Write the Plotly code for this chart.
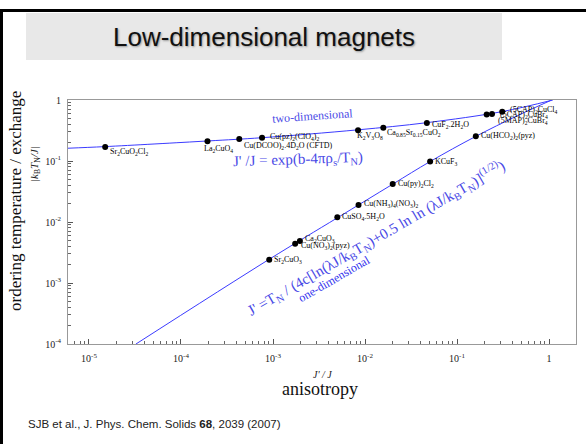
import math
import plotly.graph_objects as go

# ---------------- data ----------------
two_d_names = ["Sr<sub>2</sub>CuO<sub>2</sub>Cl<sub>2</sub>", "La<sub>2</sub>CuO<sub>4</sub>",
               "Cu(DCOO)<sub>2</sub>.4D<sub>2</sub>O (CFTD)", "Cu(pz)<sub>2</sub>(ClO<sub>4</sub>)<sub>2</sub>",
               "K<sub>2</sub>V<sub>3</sub>O<sub>8</sub>", "Ca<sub>0.85</sub>Sr<sub>0.15</sub>CuO<sub>2</sub>",
               "CuF<sub>2</sub>.2H<sub>2</sub>O", "(5MAP)<sub>2</sub>CuBr<sub>4</sub>",
               "(5CAP)<sub>2</sub>CuBr<sub>4</sub>", "(5CAP)<sub>2</sub>CuCl<sub>4</sub>"]
two_d_x = [1.5e-5, 1.94e-4, 4.3e-4, 7.6e-4, 8.4e-3, 0.0158, 0.047, 0.21, 0.24, 0.31]
two_d_y = [0.17, 0.21, 0.23, 0.24, 0.32, 0.35, 0.42, 0.58, 0.59, 0.64]

one_d_names = ["Sr<sub>2</sub>CuO<sub>3</sub>", "Cu(NO<sub>3</sub>)<sub>2</sub>(pyz)", "Ca<sub>2</sub>CuO<sub>3</sub>",
               "CuSO<sub>4</sub>.5H<sub>2</sub>O", "Cu(NH<sub>3</sub>)<sub>4</sub>(NO<sub>3</sub>)<sub>2</sub>",
               "Cu(py)<sub>2</sub>Cl<sub>2</sub>", "KCuF<sub>3</sub>", "Cu(HCO<sub>2</sub>)<sub>2</sub>(pyz)"]
one_d_x = [9.1e-4, 1.74e-3, 1.96e-3, 5.0e-3, 8.5e-3, 0.020, 0.051, 0.16]
one_d_y = [2.4e-3, 4.4e-3, 4.9e-3, 0.012, 0.019, 0.042, 0.098, 0.254]

# theory curves
curve2d_x = [5.9e-6, 1.48e-5, 1.95e-4, 7.6e-4, 8.3e-3, 0.047, 0.31, 1.1]
curve2d_y = [0.162, 0.172, 0.213, 0.241, 0.324, 0.425, 0.646, 1.0]
curve1d_x = [3.24e-5, 9.1e-4, 5.0e-3, 0.020, 0.051, 0.158, 0.45, 1.07]
curve1d_y = [1.0e-4, 2.45e-3, 0.0117, 0.0417, 0.098, 0.251, 0.55, 1.0]

x_tick_vals = [1e-5, 1e-4, 1e-3, 1e-2, 1e-1, 1]
x_tick_text = ["10<sup>-5</sup>", "10<sup>-4</sup>", "10<sup>-3</sup>", "10<sup>-2</sup>", "10<sup>-1</sup>", "1"]
y_tick_vals = [1e-4, 1e-3, 1e-2, 1e-1, 1]
y_tick_text = ["10<sup>-4</sup>", "10<sup>-3</sup>", "10<sup>-2</sup>", "10<sup>-1</sup>", "1"]

# ---------------- layout geometry ----------------
W, H = 586, 444
L, R, T, B = 68, 576, 100, 344  # plot area in pixels


def px(xp):
    return (xp - L) / (R - L)


def py(yp):
    return (B - yp) / (B - T)


SERIF = "Liberation Serif, Times New Roman, serif"
SANS = "Liberation Sans, Arial, sans-serif"
BLUE_LINE = "#3b3bff"
BLUE_TEXT = "#4a4ae6"

fig = go.Figure()
fig.add_trace(go.Scatter(x=curve2d_x, y=curve2d_y, mode="lines", line=dict(color=BLUE_LINE, width=1),
                         line_shape="spline", hoverinfo="skip"))
fig.add_trace(go.Scatter(x=curve1d_x, y=curve1d_y, mode="lines", line=dict(color=BLUE_LINE, width=1),
                         line_shape="spline", hoverinfo="skip"))
fig.add_trace(go.Scatter(x=two_d_x, y=two_d_y, mode="markers", marker=dict(color="black", size=6)))
fig.add_trace(go.Scatter(x=one_d_x, y=one_d_y, mode="markers", marker=dict(color="black", size=6)))

# label offsets (style)
two_d_off = [(3, -5), (-5, -8), (3, -7), (6, 1), (-3, -6), (2, -5), (3, -2), (9, -7), (6, -1), (6, 2)]
one_d_off = [(3, 0), (4, -2), (3, 2), (3, 0), (3, 1), (3, 0), (3, 0), (3, 0)]

annotations = []
for names, xs, ys, offs in [(two_d_names, two_d_x, two_d_y, two_d_off),
                            (one_d_names, one_d_x, one_d_y, one_d_off)]:
    for n, xv, yv, (dx, dy) in zip(names, xs, ys, offs):
        annotations.append(dict(x=math.log10(xv), y=math.log10(yv), xref="x", yref="y", text=n,
                                showarrow=False, xanchor="left", yanchor="middle", xshift=dx, yshift=dy,
                                font=dict(family=SERIF, size=8, color="black")))


def note(xp, yp, text, size, color, family=SERIF, angle=0, xanchor="center"):
    return dict(x=px(xp), y=py(yp), xref="paper", yref="paper", text=text, showarrow=False,
                xanchor=xanchor, yanchor="middle", textangle=angle,
                font=dict(family=family, size=size, color=color))


annotations += [
    note(312, 116, "two-dimensional", 12, BLUE_TEXT, angle=-4),
    note(298, 160, "J' /J = exp(b-4πρ<sub>s</sub>/T<sub>N</sub>)", 15, BLUE_TEXT, angle=-2),
    note(376, 238, "J' =T<sub>N</sub> / (4c[ln(λJ/k<sub>B</sub>T<sub>N</sub>)+0.5 ln ln (λJ/k<sub>B</sub>T<sub>N</sub>)]<sup>(1/2)</sup>)",
         15, BLUE_TEXT, angle=-30),
    note(334, 279, "one-dimensional", 12, "#3030ee", angle=-30),
    note(264, 37, "Low-dimensional magnets", 26, "#111", family=SANS),
    note(15, 201, "ordering temperature / exchange", 17, "#111", angle=-90),
    note(35, 164, "<i>|k</i><sub>B</sub><i>T</i><sub>N</sub><i>/J|</i>", 11, "#222", angle=-90),
    note(322, 374, "<i>J' / J</i>", 10, "#222"),
    note(320, 389, "anisotropy", 18, "#111"),
    note(26, 424, "SJB et al., J. Phys. Chem. Solids <b>68</b>, 2039 (2007)", 11.5, "#222",
         family=SANS, xanchor="left"),
]
annotations[-6]["font"]["shadow"] = "1px 1px 2px #999"

shapes = [
    dict(type="rect", xref="paper", yref="paper", x0=px(26), x1=px(502), y0=py(13), y1=py(60),
         fillcolor="#e8e8e8", line=dict(width=0), layer="below"),
    dict(type="line", xref="paper", yref="paper", x0=px(1.5), x1=px(1.5), y0=py(10), y1=py(450),
         line=dict(color="black", width=3)),
    dict(type="line", xref="paper", yref="paper", x0=px(0), x1=px(590), y0=py(10.5), y1=py(10.5),
         line=dict(color="black", width=3)),
]


def minor_vals(lo, hi):
    out = []
    for e in range(lo, hi + 1):
        for m in range(2, 10):
            out.append(m * 10 ** e)
    return out


fig.update_layout(
    width=W, height=H, margin=dict(l=L, r=W - R, t=T, b=H - B),
    paper_bgcolor="white", plot_bgcolor="white", showlegend=False,
    annotations=annotations, shapes=shapes,
    xaxis=dict(type="log", range=[-5.228, 0.293], showgrid=False, zeroline=False,
               showline=True, linecolor="#999", linewidth=1, mirror=True,
               tickmode="array", tickvals=x_tick_vals, ticktext=x_tick_text,
               ticks="inside", ticklen=5, tickcolor="#555", ticklabelstandoff=5,
               tickfont=dict(family=SERIF, size=10, color="#222"),
               minor=dict(tickmode="array", tickvals=minor_vals(-6, 0), ticks="inside", ticklen=3,
                          tickcolor="#666", showgrid=False)),
    yaxis=dict(type="log", range=[-4, 0], showgrid=False, zeroline=False,
               showline=True, linecolor="#999", linewidth=1, mirror=True,
               tickmode="array", tickvals=y_tick_vals, ticktext=y_tick_text,
               ticks="inside", ticklen=5, tickcolor="#555", ticklabelstandoff=4,
               tickfont=dict(family=SERIF, size=10, color="#222"),
               minor=dict(tickmode="array", tickvals=minor_vals(-5, 0), ticks="inside", ticklen=3,
                          tickcolor="#666", showgrid=False)),
)

fig.write_html("out.html")
